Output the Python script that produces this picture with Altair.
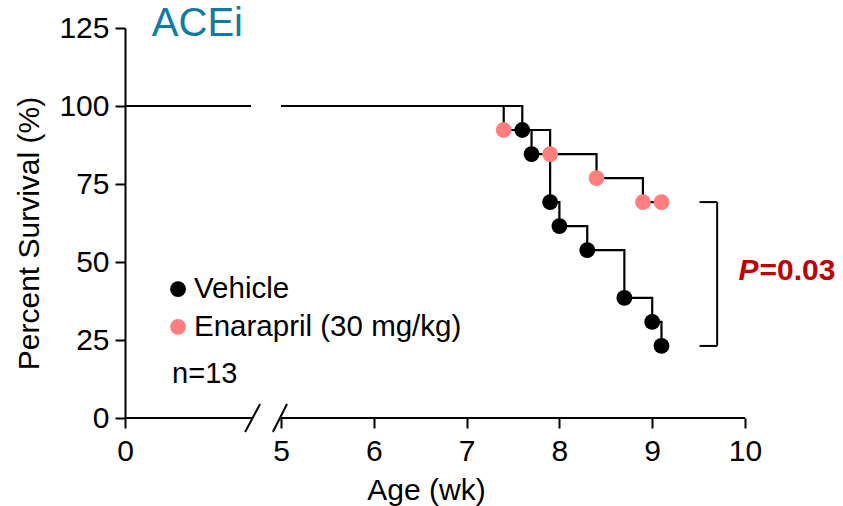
import altair as alt
import pandas as pd

# ---- data ----
veh_age = [5, 7.6, 7.7, 7.9, 8.0, 8.3, 8.7, 9.0, 9.1]
veh_surv = [100, 92.3, 84.6, 69.2, 61.5, 53.8, 38.5, 30.8, 23.1]
ena_age = [5, 7.4, 7.9, 8.4, 8.9, 9.1]
ena_surv = [100, 92.3, 84.6, 76.9, 69.2, 69.2]
groups = ["Vehicle", "Enarapril (30 mg/kg)"]
group_colors = ["#000000", "#FF7F7F"]
x_ticks = [0, 5, 6, 7, 8, 9, 10]
y_ticks = [0, 25, 50, 75, 100, 125]
n_label = "n=13"
p_label = "=0.03"

# broken-axis geometry (in data units)
left_seg_end = 4.04
axis_left_end = 4.09
axis_right_start = 4.97
slash_x = [3.85, 4.74]
slash_x2 = [4.33, 5.065]

FONT = "Liberation Sans"

rows = []
for g, ages, survs in [(groups[0], veh_age, veh_surv), (groups[1], ena_age, ena_surv)]:
    for i, (a, s) in enumerate(zip(ages, survs)):
        rows.append({"group": g, "age": a, "surv": s, "event": i > 0})
df = pd.DataFrame(rows)

xscale = alt.Scale(domain=[0, 5, 10], range=[0, 156, 620], nice=False, zero=False)
yscale = alt.Scale(domain=[0, 125], nice=False)
color = alt.Color("group:N", scale=alt.Scale(domain=groups, range=group_colors), legend=None)

xaxis = alt.Axis(values=x_ticks, domain=False, grid=False, tickSize=10, tickWidth=2,
                 tickColor="black", labelFontSize=30, labelFont=FONT, labelColor="black",
                 labelPadding=8, labelFlush=False, labelOverlap=False,
                 title="Age (wk)", titleFontSize=30, titleFont=FONT,
                 titleFontWeight="normal", titleColor="black", titleX=301, titleY=72,
                 titleBaseline="middle", titleAlign="center")
yaxis = alt.Axis(values=y_ticks, domain=True, domainWidth=2, domainColor="black", grid=False,
                 tickSize=10, tickWidth=2, tickColor="black", labelFontSize=30, labelFont=FONT,
                 labelColor="black", labelPadding=6, labelFlush=False, labelOverlap=False,
                 title="Percent Survival (%)",
                 titleFontSize=30, titleFont=FONT, titleFontWeight="normal", titleColor="black",
                 titleX=-96, titleY=205, titleAngle=270, titleAlign="center",
                 titleBaseline="middle")


def X(f):
    return alt.X(f, type="quantitative", scale=xscale, axis=xaxis)


def Y(f):
    return alt.Y(f, type="quantitative", scale=yscale, axis=yaxis)


lines = alt.Chart(df).mark_line(interpolate="step-after", strokeWidth=2.2, color="black").encode(
    x=X("age"), y=Y("surv"), detail="group:N"
)

pts_v = alt.Chart(df).transform_filter(
    (alt.datum.event) & (alt.datum.group == groups[0])
).mark_point(filled=True, size=250, opacity=1, shape="circle").encode(
    x=X("age"), y=Y("surv"), color=color
)
pts_e = alt.Chart(df).transform_filter(
    (alt.datum.event) & (alt.datum.group == groups[1])
).mark_point(filled=True, size=250, opacity=1, shape="circle").encode(
    x=X("age"), y=Y("surv"), color=color
)

# left part of 100% line, before the break
left_line = alt.Chart(pd.DataFrame({"x": [0], "x2": [left_seg_end], "y": [100]})).mark_rule(
    strokeWidth=2.2, color="black"
).encode(x=X("x"), x2="x2:Q", y=Y("y"))

# broken x axis line
axis_df = pd.DataFrame({"x": [0, axis_right_start], "x2": [axis_left_end, 10], "y": [0, 0]})
axis_line = alt.Chart(axis_df).mark_rule(strokeWidth=2, color="black").encode(
    x=X("x"), x2="x2:Q", y=Y("y")
)
slash_df = pd.DataFrame({"x": slash_x, "x2": slash_x2, "y": [-4.5, -4.5], "y2": [4.5, 4.5]})
slashes = alt.Chart(slash_df).mark_rule(strokeWidth=2, color="black").encode(
    x=X("x"), x2="x2:Q", y=Y("y"), y2="y2:Q"
)

# bracket for P value
br_df = pd.DataFrame({
    "x": [9.51, 9.51, 9.70], "x2": [9.70, 9.70, 9.70],
    "y": [69.2, 23.1, 23.1], "y2": [69.2, 23.1, 69.2],
})
bracket = alt.Chart(br_df).mark_rule(strokeWidth=2, color="black").encode(
    x=X("x"), x2="x2:Q", y=Y("y"), y2="y2:Q"
)

p_italic = alt.Chart(pd.DataFrame({"x": [9.93], "y": [47.1], "t": ["P"]})).mark_text(
    font=FONT, fontSize=30, fontWeight="bold", fontStyle="italic", color="#C00000",
    align="left", baseline="middle"
).encode(x=X("x"), y=Y("y"), text="t:N")
p_rest = alt.Chart(pd.DataFrame({"x": [9.93], "y": [47.1], "t": [p_label]})).mark_text(
    font=FONT, fontSize=30, fontWeight="bold", color="#C00000",
    align="left", baseline="middle", dx=21
).encode(x=X("x"), y=Y("y"), text="t:N")

title = alt.Chart(pd.DataFrame({"x": [0.86], "y": [126.3], "t": ["ACEi"]})).mark_text(
    font=FONT, fontSize=40, color="#137BA0", align="left", baseline="middle"
).encode(x=X("x"), y=Y("y"), text="t:N")

# manual legend
leg_df = pd.DataFrame({"x": [1.70, 1.70], "y": [41.3, 29.2], "group": groups})
leg_pts = alt.Chart(leg_df).mark_point(filled=True, size=250, opacity=1, shape="circle").encode(
    x=X("x"), y=Y("y"), color=color
)
leg_txt = alt.Chart(leg_df).mark_text(
    font=FONT, fontSize=29.5, color="black", align="left", baseline="middle", dx=16
).encode(x=X("x"), y=Y("y"), text="group:N")
n_txt = alt.Chart(pd.DataFrame({"x": [1.51], "y": [14.1], "t": [n_label]})).mark_text(
    font=FONT, fontSize=29, color="black", align="left", baseline="middle"
).encode(x=X("x"), y=Y("y"), text="t:N")

chart = alt.layer(
    left_line, axis_line, slashes, lines, pts_v, pts_e, bracket,
    p_italic, p_rest, title, leg_pts, leg_txt, n_txt
).properties(
    width=620, height=390,
    background="white",
    autosize=alt.AutoSizeParams(type="none"),
    padding={"left": 125, "top": 28, "right": 98, "bottom": 88},
).configure_view(strokeWidth=0, stroke=None)

chart.save("out.html", embed_options={"renderer": "svg", "actions": False})
